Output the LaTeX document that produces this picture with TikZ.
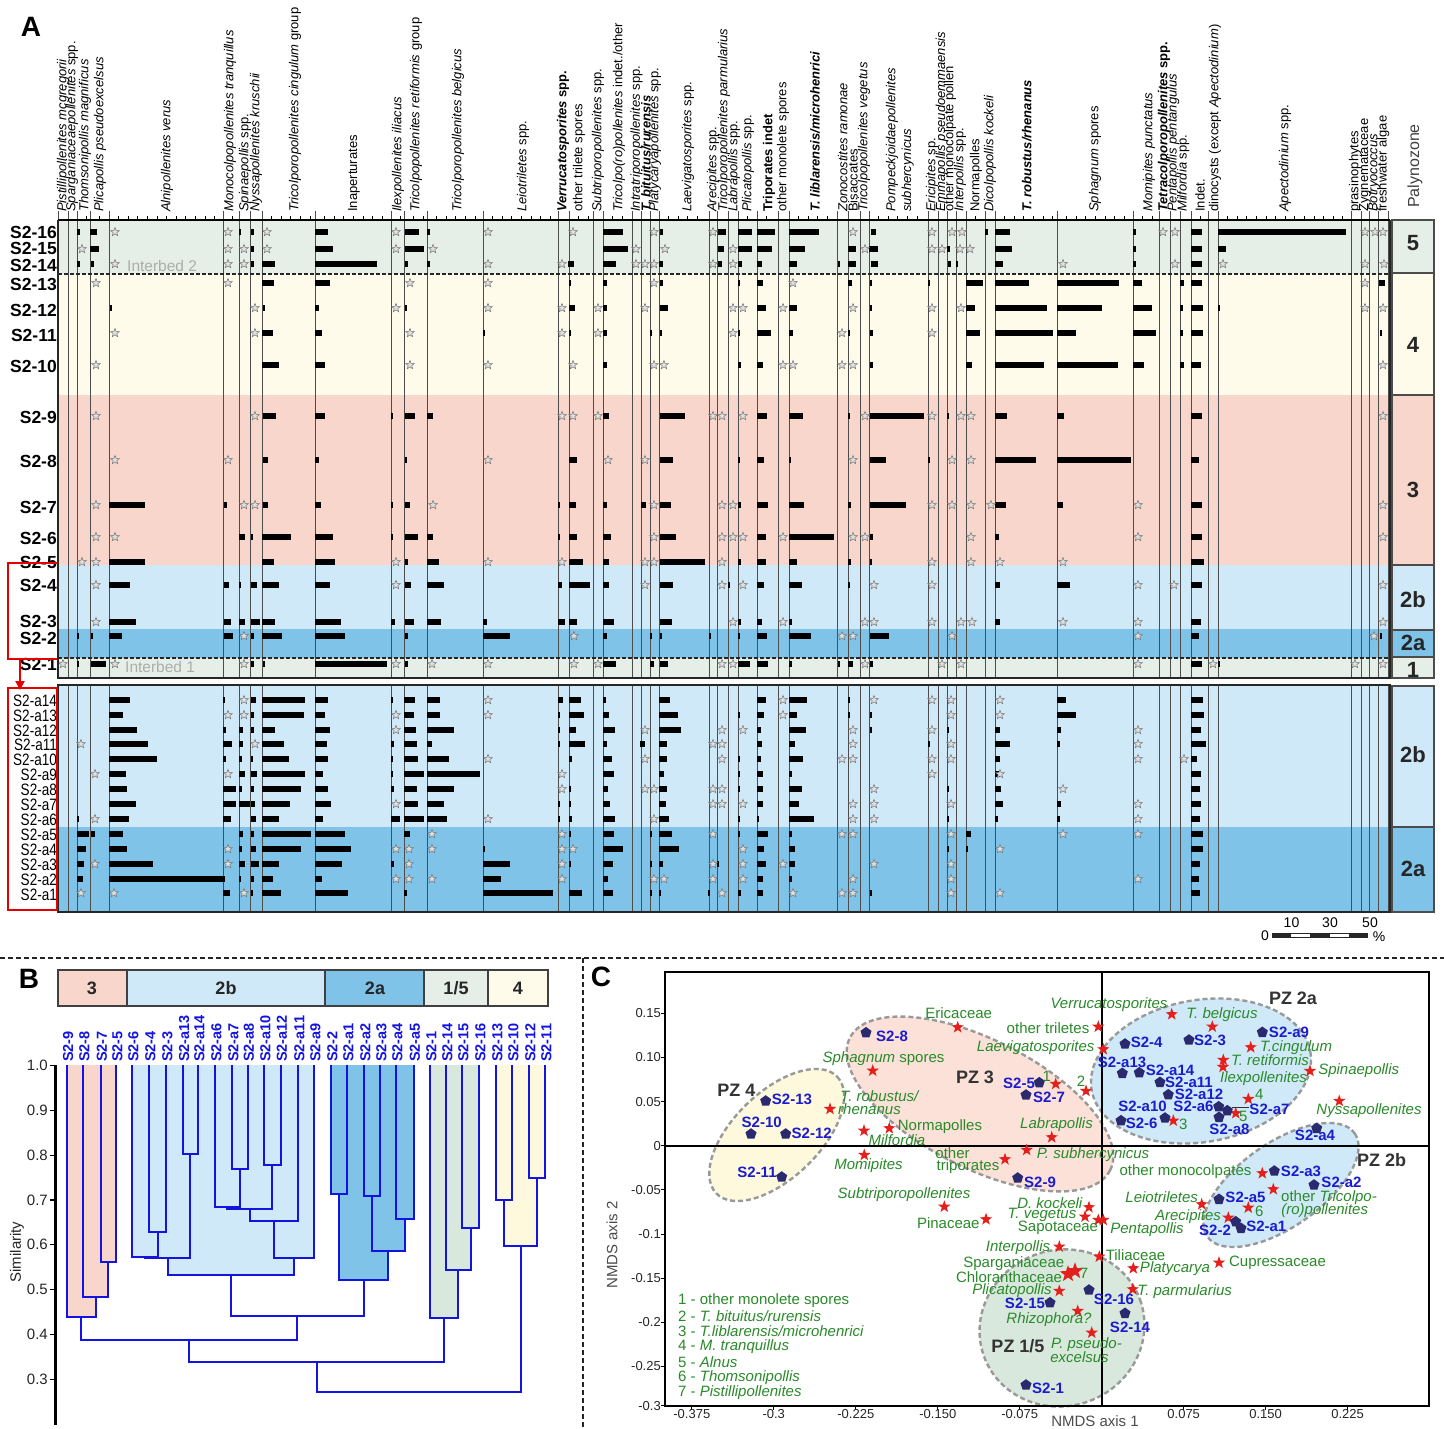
\documentclass[tikz,border=0pt]{standalone}
\usepackage{fontspec}
\setmainfont{Liberation Sans}
\usetikzlibrary{arrows.meta}
\definecolor{colG}{HTML}{E5EFE7}
\definecolor{colY}{HTML}{FEFBEB}
\definecolor{colS}{HTML}{F9D6CB}
\definecolor{colB}{HTML}{D0E9F8}
\definecolor{colM}{HTML}{7FC3E8}
\definecolor{colGB}{HTML}{D9E8DD}
\definecolor{colYB}{HTML}{FEF9DD}
\definecolor{colSL}{HTML}{FBE1D8}
\definecolor{dblue}{HTML}{1414E0}
\definecolor{pblue}{HTML}{1C1CCC}
\definecolor{navy}{HTML}{2B2A6E}
\definecolor{grn}{HTML}{2A8A2A}
\definecolor{rstarc}{HTML}{E3201C}
\definecolor{pzgray}{HTML}{333333}
\newcommand\fcol{\fontsize{13}{14}\selectfont}
\newcommand\frow{\fontsize{17.5}{18}\selectfont}
\newcommand\frowb{\fontsize{16.5}{17}\selectfont}
\newcommand\fbig{\fontsize{28}{30}\selectfont}
\newcommand\fpzn{\fontsize{22}{23}\selectfont}
\newcommand\fib{\fontsize{15.5}{16}\selectfont}
\newcommand\fscl{\fontsize{14}{15}\selectfont}
\newcommand\fleaf{\fontsize{14.5}{15}\selectfont}
\newcommand\ftick{\fontsize{15}{16}\selectfont}
\newcommand\fhead{\fontsize{18}{19}\selectfont}
\newcommand\fpt{\fontsize{15}{16}\selectfont}
\newcommand\fgr{\fontsize{15}{16}\selectfont}
\newcommand\fpzl{\fontsize{18}{19}\selectfont}
\newcommand\fctick{\fontsize{13}{14}\selectfont}
\newcommand\brs[2]{\foreach \p/\q in {#2}{\fill[black] (\p,#1-3.3) rectangle (\q,#1+3.3);}}
\newcommand\sts[2]{\foreach \p in {#2}{\pic at (\p,#1) {gstar};}}
\newcommand\mrg[5]{\draw[dend] (#1,#2) -- (#1,#5) -- (#3,#5) -- (#3,#4);}
\def\collines{58,68,77,90,109,223,239,250,262,315,391,404,427,483,558,569,593,603,632,641,650,659,709,717,728,738,757,778,789,837,848,860,869,928,938,947,956,966,985,995,1057,1133,1159,1170,1180,1191,1208,1218,1351,1361,1369,1378,1388}
\begin{document}
\begin{tikzpicture}[x=1pt,y=-1pt,
  clab/.style={rotate=90,anchor=west,inner sep=0pt,font=\fcol},
  rlab/.style={anchor=east,inner sep=0pt,font=\frow\bfseries},
  rlabb/.style={anchor=east,inner sep=0pt,font=\frowb,xscale=0.82},
  colline/.style={draw=black!70,line width=0.7},
  pzbox/.style={draw=black!70,line width=1.8},
  pzlab/.style={font=\fpzn\bfseries,text=black!85},
  dend/.style={draw=dblue,line width=2},
  leaf/.style={rotate=90,anchor=west,inner sep=0pt,font=\fleaf\bfseries,text=dblue},
  plab/.style={inner sep=0pt,font=\fpt\bfseries,text=pblue},
  glab/.style={inner sep=0pt,font=\fgr,text=grn},
  pzc/.style={inner sep=0pt,font=\fpzl\bfseries,text=pzgray},
  ell/.style={draw=black!40,line width=2.4,dash pattern=on 5pt off 3pt},
  gstar/.pic={\filldraw[fill=black!12,draw=black!55,line width=0.5] (-90:4.6)--(-126:1.9)--(-162:4.6)--(-198:1.9)--(-234:4.6)--(-270:1.9)--(-306:4.6)--(-342:1.9)--(-378:4.6)--(-414:1.9)--cycle;},
  rstar/.pic={\fill[rstarc] (-90:6.5)--(-126:2.6)--(-162:6.5)--(-198:2.6)--(-234:6.5)--(-270:2.6)--(-306:6.5)--(-342:2.6)--(-378:6.5)--(-414:2.6)--cycle;},
  pent/.pic={\fill[navy] (-90:5.8)--(-18:5.8)--(54:5.8)--(126:5.8)--(198:5.8)--cycle;}
]
\useasboundingbox (0,0) rectangle (1444,1429);
\fill[white] (0,0) rectangle (1444,1429);

% ================= PANEL A =================
\node[font=\fbig\bfseries] (lblA) at (31,27) {A};
\fill[colG] (58,220) rectangle (1390,274);
\fill[colY] (58,274) rectangle (1390,395);
\fill[colS] (58,395) rectangle (1390,565);
\fill[colB] (58,565) rectangle (1390,629);
\fill[colM] (58,629) rectangle (1390,658);
\fill[colG] (58,658) rectangle (1390,678);
\fill[colB] (58,685) rectangle (1390,827);
\fill[colM] (58,827) rectangle (1390,912);
\foreach \x in \collines {\draw[colline] (\x,211) -- (\x,678); \draw[colline] (\x,685) -- (\x,912);}
\foreach \b [remember=\b as \a (initially 58)] in {68,77,90,109,223,239,250,262,315,391,404,427,483,558,569,593,603,632,641,650,659,709,717,728,738,757,778,789,837,848,860,869,928,938,947,956,966,985,995,1057,1133,1159,1170,1180,1191,1208,1218,1351,1361,1369,1378,1388}{
  \pgfmathtruncatemacro\nt{(\b-\a-3)/9.6}
  \ifnum\nt>0 \foreach \k in {1,...,\nt}{\draw[line width=0.7] (\a+\k*9.6,220) -- (\a+\k*9.6,216);}\fi
}
\draw[black!85,line width=1.3,dash pattern=on 4pt off 2pt] (58,274) -- (1390,274);
\draw[black!85,line width=1.3,dash pattern=on 4pt off 2pt] (58,658) -- (1390,658);
\node[anchor=west,inner sep=0pt,font=\fib,text=black!32] (ib2) at (127,266) {Interbed 2};
\node[anchor=west,inner sep=0pt,font=\fib,text=black!32] (ib1) at (125,667) {Interbed 1};

\brs{232}{77/80,90/97,239/241,251/254,315/328,405/419,427/430,603/623,660/663,718/726,738/752,757/775,789/819,871/876,985/988,995/1010,1133/1136,1191/1202,1218/1346}
\sts{232}{115,228,267,396,488,573,654,713,853,932,952,962,1163,1175,1365,1375,1383}
\brs{249}{90/99,251/254,315/333,405/424,603/628,718/724,738/752,757/772,789/805,848/856,869/878,947/950,995/1012,1133/1136,1191/1202,1218/1226}
\sts{249}{82,228,244,267,396,433,636,665,733,865,932,942,960,970}
\brs{264}{77/80,91/94,251/254,262/275,315/377,405/408,427/430,568/574,603/616,659/663,718/722,738/742,757/762,789/797,838/840,848/856,871/878,948/951,956/958,995/1003,1133/1136,1191/1202}
\sts{264}{115,228,244,488,562,636,645,654,713,733,1063,1175,1223,1365,1384}
\brs{283}{262/274,315/330,569/571,603/607,660/663,738/740,757/763,848/852,870/872,928/930,966/983,995/1029,1057/1119,1133/1142,1180/1184,1191/1202,1379/1385}
\sts{283}{96,228,410,488,654,793,1365}
\brs{308}{110/112,263/265,315/319,405/407,569/575,603/607,660/668,757/766,789/797,870/872,966/975,995/1047,1057/1102,1133/1152,1180/1183,1191/1203,1218/1220}
\sts{308}{255,396,488,562,598,645,733,743,783,853,932,961,1365,1383}
\brs{333}{262/273,315/322,483/485,569/571,603/607,650/652,660/662,738/740,757/771,789/793,848/850,870/873,966/980,995/1053,1057/1076,1133/1156,1180/1183,1191/1203,1380/1382}
\sts{333}{115,255,410,562,598,733,842,932}
\brs{365}{262/279,315/325,603/607,738/741,757/763,870/873,966/972,995/1044,1057/1118,1133/1144,1180/1184,1191/1201}
\sts{365}{96,410,488,573,654,664,783,793,842,853,1383}
\brs{416}{263/276,315/325,391/393,405/415,427/433,603/609,660/685,757/767,789/803,848/850,870/924,947/949,995/1007,1057/1064,1191/1202}
\sts{416}{96,255,562,573,598,713,722,743,865,932,961,971,1383}
\brs{460}{263/268,315/319,405/407,569/577,660/673,738/740,757/764,789/791,870/886,928/930,995/1036,1057/1131,1191/1199}
\sts{460}{115,228,488,608,645,853,952,971}
\brs{505}{109/145,224/227,263/268,315/321,391/393,405/410,558/560,569/576,603/607,641/646,660/671,738/741,757/768,789/804,848/851,870/906,995/1006,1057/1063,1191/1202}
\sts{505}{96,244,255,433,654,722,733,932,952,971,991,1138,1383}
\brs{537}{239/245,251/253,262/291,315/333,391/393,405/418,427/433,558/560,569/577,603/611,660/676,757/766,789/834,870/873,995/999,1191/1202}
\sts{537}{96,115,654,722,733,743,783,853,865,971,1138,1383}
\brs{562}{109/145,262/274,315/335,405/408,427/439,569/583,603/609,660/705,738/741,757/766,789/797,848/851,870/872,1191/1204}
\sts{562}{82,96,396,488,562,645,654,722,932,971,1000,1063}
\brs{585}{109/130,224/229,239/241,251/257,262/279,315/330,405/411,427/444,558/562,569/590,603/609,660/673,728/730,757/764,789/802,848/850,995/1000,1057/1070,1191/1202}
\sts{585}{96,396,645,722,743,874,932,1138,1174,1383}
\brs{622}{109/136,224/231,239/245,251/260,262/275,315/341,391/395,405/414,427/441,483/487,558/565,569/577,603/614,660/672,738/741,757/762,789/792,995/1000,1191/1201}
\sts{622}{96,733,783,865,874,932,961,972,1063,1138,1383}
\brs{636}{77/79,91/93,109/122,224/233,251/254,262/282,315/345,405/408,483/510,603/607,650/652,660/662,709/711,738/740,757/767,789/811,870/889,1191/1199,1380/1382}
\sts{636}{244,574,842,853,952,1138,1374}
\brs{664}{77/79,91/106,251/254,263/265,315/387,405/408,603/616,650/654,660/668,738/750,757/768,789/792,838/840,848/853,870/873,1191/1202,1218/1220}
\sts{664}{63,115,244,396,432,488,574,598,722,733,865,942,961,1138,1213,1355,1383}

\brs{700}{109/130,223/225,251/256,262/305,315/328,391/393,404/415,427/440,558/563,569/581,603/606,659/670,757/766,789/807,848/850,1057/1066,1191/1203}
\sts{700}{244,488,783,874,932,951,1000}
\brs{715}{109/123,251/254,262/304,315/325,404/414,427/440,558/560,569/584,603/609,659/678,738/740,757/764,789/797,848/850,870/872,1057/1076,1191/1204}
\sts{715}{228,244,396,488,783,951,1000}
\brs{730}{109/137,223/226,239/243,251/254,262/275,315/330,404/416,427/454,558/560,569/576,603/615,659/681,757/761,789/806,870/872,947/949,995/1000,1057/1061,1191/1201}
\sts{730}{396,645,722,743,853,932,1138}
\brs{744}{109/148,223/232,239/243,262/284,315/327,391/394,404/417,427/432,558/560,569/585,603/607,640/645,659/667,757/762,789/795,928/930,995/1010,1057/1060,1191/1206}
\sts{744}{81,255,713,722,853,951,1138}
\brs{759}{109/157,223/226,239/242,251/253,262/289,315/328,391/393,404/418,427/449,569/572,603/612,659/667,738/740,757/761,789/803,995/1000,1191/1197}
\sts{759}{488,645,722,842,853,932,951,1138,1184}
\brs{774}{109/126,239/245,251/257,262/305,315/323,391/393,404/424,427/480,603/614,659/664,738/740,757/763,789/792,995/1000,1191/1201}
\sts{774}{95,228,562,932,1000}
\brs{789}{109/127,223/236,239/242,251/254,262/301,315/328,391/394,404/417,427/454,569/571,603/608,659/667,738/740,757/763,789/802,947/949,995/1001,1191/1200}
\sts{789}{562,645,654,713,722,874,1063}
\brs{804}{109/136,223/236,239/250,251/255,262/290,315/331,404/418,427/444,558/560,569/571,603/610,659/666,757/763,789/799,995/1003,1057/1061,1191/1201}
\sts{804}{396,713,722,743,853,874,951,1138}
\brs{819}{77/79,109/129,223/231,251/256,262/279,315/323,391/400,404/424,427/447,558/560,569/572,603/615,659/669,738/740,757/759,789/814,947/949,995/998,1057/1060,1191/1200}
\sts{819}{95,488,654,853,874,1138}
\brs{834}{77/89,91/95,109/123,239/243,251/254,262/311,315/345,404/410,569/571,603/614,650/652,659/672,738/740,757/768,789/792,966/971,1191/1203}
\sts{834}{432,562,713,842,853,951,1063,1138}
\brs{849}{77/86,109/127,239/242,251/256,262/301,315/351,483/485,603/623,659/679,757/764,789/795,947/949,966/968,1191/1203}
\sts{849}{228,396,409,432,562,573,743,1000}
\brs{864}{77/84,109/153,239/245,251/259,262/279,315/342,391/394,483/510,569/571,603/613,650/652,659/663,717/719,757/766,789/795,1191/1200}
\sts{864}{95,228,409,562,713,743,783,874,951}
\brs{879}{77/83,109/225,239/241,251/254,262/273,315/322,483/501,603/608,757/763,789/792,1191/1199}
\sts{879}{396,409,432,562,654,664,713,743,853,951,1138}
\brs{893}{223/230,251/253,262/281,315/348,404/407,483/553,569/582,603/613,650/652,659/661,708/710,738/741,757/763,870/872,1191/1200}
\sts{893}{81,114,244,722,793,842,853,951,1000}

\draw[black,line width=1.8] (58,220) -- (1390,220);
\draw[black!85,line width=1.5] (58,220) -- (58,678) -- (1390,678) -- (1390,220);
\draw[black!85,line width=1.5] (58,685) rectangle (1390,912);

\foreach \t/\y [count=\i] in {S2-16/232,S2-15/248,S2-14/265,S2-13/284,S2-12/310,S2-11/335,S2-10/366,S2-9/417,S2-8/461,S2-7/507,S2-6/538,S2-5/562,S2-4/585,S2-3/621,S2-2/638,S2-1/664}
  {\node[rlab] (ru\i) at (57,\y) {\t};}
\foreach \t/\y [count=\i] in {S2-a14/701,S2-a13/716,S2-a12/731,S2-a11/745,S2-a10/760,S2-a9/775,S2-a8/790,S2-a7/805,S2-a6/820,S2-a5/835,S2-a4/850,S2-a3/865,S2-a2/880,S2-a1/895}
  {\node[rlabb] (rl\i) at (57,\y) {\t};}

\draw[red!90!black,line width=2.6] (58,563) -- (8,563) -- (8,659) -- (57,659);
\draw[red!90!black,line width=2.2,-{Triangle[length=9pt,width=9pt]}] (20,659) -- (20,690);
\draw[red!90!black,line width=2.6] (8,688) rectangle (57,910);

\draw[pzbox,fill=colG] (1392,220) rectangle (1434,273);
\draw[pzbox,fill=colY] (1392,273) rectangle (1434,395);
\draw[pzbox,fill=colS] (1392,395) rectangle (1434,565);
\draw[pzbox,fill=colB] (1392,565) rectangle (1434,630);
\draw[pzbox,fill=colM] (1392,630) rectangle (1434,657);
\draw[pzbox,fill=colG] (1392,657) rectangle (1434,678);
\draw[pzbox,fill=colB] (1392,686) rectangle (1434,827);
\draw[pzbox,fill=colM] (1392,827) rectangle (1434,912);
\node[pzlab] (pz5) at (1413,243) {5};
\node[pzlab] (pz4) at (1413,345) {4};
\node[pzlab] (pz3) at (1413,490) {3};
\node[pzlab] (pz2b) at (1413,600) {2b};
\node[pzlab] (pz2a) at (1413,643) {2a};
\node[pzlab] (pz1) at (1413,670) {1};
\node[pzlab] (pz2bl) at (1413,755) {2b};
\node[pzlab] (pz2al) at (1413,869) {2a};

\node[clab] (c1) at (63,212) {\textit{Pistillipollenites mcgregorii}};
\node[clab] (c2) at (72,212) {\textit{Sparganiaceaepollenites} spp.};
\node[clab] (c3) at (85,212) {\textit{Thomsonipollis magnificus}};
\node[clab] (c4) at (100,212) {\textit{Plicapollis pseudoexcelsus}};
\node[clab] (c5) at (167,212) {\textit{Alnipollenites verus}};
\node[clab] (c6) at (230,212) {\textit{Monocolpopollenites tranquillus}};
\node[clab] (c7) at (245,212) {\textit{Spinaepollis} spp.};
\node[clab] (c8) at (256,212) {\textit{Nyssapollenites kruschii}};
\node[clab] (c9) at (295,212) {\textit{Tricolporopollenites cingulum} group};
\node[clab] (c10) at (354,212) {Inaperturates};
\node[clab] (c11) at (398,212) {\textit{Ilexpollenites iliacus}};
\node[clab] (c12) at (416,212) {\textit{Tricolpopollenites retiformis} group};
\node[clab] (c13) at (458,212) {\textit{Tricolporopollenites belgicus}};
\node[clab] (c14) at (523,212) {\textit{Leiotriletes} spp.};
\node[clab] (c15) at (563,212) {\textbf{\textit{Verrucatosporites} spp.}};
\node[clab] (c16) at (579,212) {other trilete spores};
\node[clab] (c17) at (598,212) {\textit{Subtriporopollenites} spp.};
\node[clab] (c18) at (619,212) {\textit{Tricolpo(ro)pollenites} indet./other};
\node[clab] (c19) at (636.5,212) {\textit{Intratriporopollenites} spp.};
\node[clab] (c20) at (646,212) {\textbf{\textit{T. bituitus/rurensis}}};
\node[clab] (c21) at (655,212) {\textit{Platycaryapollenites} spp.};
\node[clab] (c22) at (688,212) {\textit{Laevigatosporites} spp.};
\node[clab] (c23) at (713,212) {\textit{Arecipites} spp.};
\node[clab] (c24) at (724,212) {\textit{Tricolporopollenites parmularius}};
\node[clab] (c25) at (734,212) {\textit{Labrapollis} spp.};
\node[clab] (c26) at (748,212) {\textit{Plicatopollis} spp.};
\node[clab] (c27) at (769,212) {\textbf{Triporates indet}};
\node[clab] (c28) at (783,212) {other monolete spores};
\node[clab] (c29) at (815,212) {\textbf{\textit{T. liblarensis/microhenrici}}};
\node[clab] (c30) at (842.7,212) {\textit{Zonocostites ramonae}};
\node[clab] (c31) at (853,212) {Bisaccates};
\node[clab] (c32) at (864,212) {\textit{Tricolpopollenites vegetus}};
\node[clab] (c33) at (892,212) {\textit{Pompeckjoidaepollenites}};
\node[clab] (c33b) at (907.7,212) {\textit{subhercynicus}};
\node[clab] (c34) at (932,212) {\textit{Ericipites} sp.};
\node[clab] (c35) at (941.7,212) {\textit{Emmapollis pseudoemmaensis}};
\node[clab] (c36) at (950,212) {other monocolpate pollen};
\node[clab] (c37) at (960,212) {\textit{Interpollis} spp.};
\node[clab] (c38) at (976,212) {Normapolles};
\node[clab] (c39) at (990,212) {\textit{Dicolpopollis kockeli}};
\node[clab] (c40) at (1026.7,212) {\textbf{\textit{T. robustus/rhenanus}}};
\node[clab] (c41) at (1095,212) {\textit{Sphagnum} spores};
\node[clab] (c42) at (1149,212) {\textit{Momipites punctatus}};
\node[clab] (c43) at (1164,212) {\textbf{\textit{Tetracolporopollenites} spp.}};
\node[clab] (c44) at (1173.3,212) {\textit{Pentapollis pentangulus}};
\node[clab] (c45) at (1183.3,212) {\textit{Milfordia} spp.};
\node[clab] (c46) at (1200,212) {Indet.};
\node[clab] (c47) at (1215,212) {dinocysts (except \textit{Apectodinium})};
\node[clab] (c48) at (1285,212) {\textit{Apectodinium} spp.};
\node[clab] (c49) at (1355,212) {prasinophytes};
\node[clab] (c50) at (1365,212) {Zygnemataceae};
\node[clab] (c51) at (1374.3,212) {\textit{Botryococcus}};
\node[clab] (c52) at (1383.3,212) {freshwater algae};
\node[rotate=90,anchor=west,inner sep=0pt,font=\fontsize{16}{17}\selectfont,text=black!75] (pzt) at (1415,208) {Palynozone};

\fill[black!85] (1271.7,932.7) rectangle (1368.3,938.3);
\fill[white] (1291,933.7) rectangle (1310.3,937.3);
\fill[white] (1329.7,933.7) rectangle (1349,937.3);
\node[font=\fscl,inner sep=0pt] (s0) at (1265,936) {0};
\node[font=\fscl,inner sep=0pt] (s10) at (1291.5,923) {10};
\node[font=\fscl,inner sep=0pt] (s30) at (1330,923) {30};
\node[font=\fscl,inner sep=0pt] (s50) at (1370,923) {50};
\node[font=\fscl,inner sep=0pt] (spc) at (1379,937) {\%};

\draw[black!85,line width=1.3,dash pattern=on 5pt off 3pt] (0,958) -- (1444,958);
\draw[black!85,line width=1.3,dash pattern=on 5pt off 3pt] (583,958) -- (583,1429);

% ================= PANEL B =================
\node[font=\fbig\bfseries] (lblB) at (29,979) {B};
\draw[line width=1.6,draw=black!75,fill=colS] (58,970) rectangle (127,1006);
\draw[line width=1.6,draw=black!75,fill=colB] (127,970) rectangle (325,1006);
\draw[line width=1.6,draw=black!75,fill=colM] (325,970) rectangle (424,1006);
\draw[line width=1.6,draw=black!75,fill=colG] (424,970) rectangle (488,1006);
\draw[line width=1.6,draw=black!75,fill=colY] (488,970) rectangle (548,1006);
\node[font=\fhead\bfseries,text=black!85] (h3) at (92,988) {3};
\node[font=\fhead\bfseries,text=black!85] (h2b) at (226,988) {2b};
\node[font=\fhead\bfseries,text=black!85] (h2a) at (375,988) {2a};
\node[font=\fhead\bfseries,text=black!85] (h15) at (456,988) {1/5};
\node[font=\fhead\bfseries,text=black!85] (h4) at (518,988) {4};
\fill[colS] (66.7,1065) -- (116,1065) -- (116,1262.3) -- (108.25,1262.3) -- (108.25,1296.7) -- (95.6,1296.7) -- (95.6,1317.3) -- (66.7,1317.3) -- cycle;
\fill[colB] (132,1065) -- (314,1065) -- (314,1257.7) -- (294,1257.7) -- (294,1275) -- (167.5,1275) -- (167.5,1258.3) -- (132,1258.3) -- cycle;
\fill[colM] (331,1065) -- (413.5,1065) -- (413.5,1219) -- (404.75,1219) -- (404.75,1250.7) -- (388.4,1250.7) -- (388.4,1280) -- (339,1280) -- (339,1194) -- (331,1194) -- cycle;
\fill[colGB] (430,1065) -- (479,1065) -- (479,1227.7) -- (470.5,1227.7) -- (470.5,1270) -- (458.25,1270) -- (458.25,1318.3) -- (430,1318.3) -- cycle;
\fill[colYB] (496,1065) -- (545,1065) -- (545,1177.7) -- (537,1177.7) -- (537,1245.7) -- (504,1245.7) -- (504,1200) -- (496,1200) -- cycle;
\mrg{100.5}{1065}{116}{1065}{1262.3}
\mrg{83}{1065}{108.25}{1262.3}{1296.7}
\mrg{66.7}{1065}{95.6}{1296.7}{1317.3}
\mrg{149}{1065}{166}{1065}{1232.3}
\mrg{132}{1065}{157.5}{1232.3}{1257.3}
\mrg{182.6}{1065}{198}{1065}{1154}
\mrg{144.75}{1257.3}{190.3}{1154}{1258.3}
\mrg{232}{1065}{247.5}{1065}{1169}
\mrg{264}{1065}{280.5}{1065}{1165}
\mrg{215}{1065}{239.75}{1169}{1206.7}
\mrg{227.4}{1206.7}{272.25}{1165}{1209.3}
\mrg{249.8}{1209.3}{298}{1065}{1220.7}
\mrg{273.9}{1220.7}{314}{1065}{1257.7}
\mrg{167.5}{1258.3}{294}{1257.7}{1275}
\mrg{331}{1065}{347}{1065}{1194}
\mrg{364}{1065}{380}{1065}{1195.7}
\mrg{396}{1065}{413.5}{1065}{1219}
\mrg{372}{1195.7}{404.75}{1219}{1250.7}
\mrg{339}{1194}{388.4}{1250.7}{1280}
\mrg{230.8}{1275}{363.7}{1280}{1316}
\mrg{81.2}{1317.3}{297.2}{1316}{1340}
\mrg{462}{1065}{479}{1065}{1227.7}
\mrg{446}{1065}{470.5}{1227.7}{1270}
\mrg{430}{1065}{458.25}{1270}{1318.3}
\mrg{189.2}{1340}{444.1}{1318.3}{1362.3}
\mrg{529}{1065}{545}{1065}{1177.7}
\mrg{496}{1065}{512}{1065}{1200}
\mrg{504}{1200}{537}{1177.7}{1245.7}
\mrg{316.7}{1362.3}{520.5}{1245.7}{1392.3}
\foreach \t/\x [count=\i] in {S2-9/66.7,S2-8/83,S2-7/100.5,S2-5/116,S2-6/132,S2-4/149,S2-3/166,S2-a13/182.6,S2-a14/198,S2-a6/215,S2-a7/232,S2-a8/247.5,S2-a10/264,S2-a12/280.5,S2-a11/298,S2-a9/314,S2-2/331,S2-a1/347,S2-a2/364,S2-a3/380,S2-a4/396,S2-a5/413.5,S2-1/430,S2-14/446,S2-15/462,S2-16/479,S2-13/496,S2-10/512,S2-12/529,S2-11/545}
  {\node[leaf] (lf\i) at (\x+1.5,1062) {\t};}
\draw[black,line width=2.3] (55.5,1065) -- (55.5,1425);
\foreach \t/\y [count=\i] in {1.0/1065.5,0.9/1110.3,0.8/1155.1,0.7/1199.9,0.6/1244.7,0.5/1289.5,0.4/1334.3,0.3/1379.1}
  {\draw[black,line width=1.2] (49.5,\y) -- (55.5,\y); \node[anchor=east,inner sep=0pt,font=\ftick,text=black!85] (bt\i) at (48,\y) {\t};}
\node[rotate=90,inner sep=0pt,font=\ftick,text=black!85] (sim) at (17,1252) {Similarity};

% ================= PANEL C =================
\node[font=\fbig\bfseries] (lblC) at (601,977) {C};
\draw[ell,fill=colYB,rotate around={44:(776.7,1135)}] (776.7,1135) ellipse [x radius=84,y radius=43];
\draw[ell,fill=colSL,rotate around={-27:(980,1104)}] (980,1104) ellipse [x radius=146,y radius=64];
\draw[ell,fill=colB,rotate around={10:(1201,1071)}] (1201,1071) ellipse [x radius=111,y radius=71];
\draw[ell,fill=colB,rotate around={35:(1281,1185)}] (1281,1185) ellipse [x radius=90,y radius=42];
\draw[ell,fill=colGB,rotate around={20:(1062,1328)}] (1062,1328) ellipse [x radius=83,y radius=78];
\draw[black,line width=1.8] (1101.7,972) -- (1101.7,1406);
\draw[black,line width=1.8] (665,1145.7) -- (1429,1145.7);
\draw[black,line width=2] (665,972) rectangle (1429,1406);
\foreach \t/\y [count=\i] in {0.15/1013.3,0.10/1057.4,0.05/1101.6,0/1145.7,-0.05/1189.9,-0.1/1234,-0.15/1278.2,-0.2/1322.4,-0.25/1366.5,-0.3/1405.7}
  {\draw[black,line width=1] (661,\y) -- (665,\y); \node[anchor=east,inner sep=0pt,font=\fctick,text=black!85] (ct\i) at (661,\y) {\t};}
\foreach \t/\x [count=\i] in {-0.375/691.8,-0.3/773.7,-0.225/855.8,-0.150/937.8,-0.075/1019.7,0.075/1183.7,0.150/1265.6,0.225/1347.6}
  {\draw[black,line width=1] (\x,1406) -- (\x,1410); \node[inner sep=0pt,font=\fctick,text=black!85] (cx\i) at (\x,1414) {\t};}
\node[rotate=90,inner sep=0pt,font=\fontsize{15}{16}\selectfont,text=black!70] (ax2) at (612,1245) {NMDS axis 2};
\node[inner sep=0pt,font=\fontsize{15}{16}\selectfont,text=black!70] (ax1) at (1095,1421) {NMDS axis 1};
\foreach \x/\y in {957.7/1027.3,1098.3/1026.7,1171.7/1014.3,1103.3/1049.3,1212.3/1026.7,1250.7/1047.3,1223.3/1060,1223/1067,1310/1071,1339.3/1101,1248.3/1099,1235.7/1113.3,1173.3/1120.7,1055.7/1084,1086/1091,1051.7/1137.3,1026.7/1150,872.7/1070.7,830/1109,889.3/1128.3,864/1130.7,864.3/1155,1005/1159.3,944.3/1206.7,986/1219.3,1089/1207.3,1085/1216.7,1098.3/1220,1103.3/1220,1262.3/1173.3,1201.7/1204.3,1273.3/1189.3,1248.3/1207.7,1228.3/1217.7,1059.3/1246.7,1099.3/1256.7,1133.3/1268.3,1219/1262.7,1059.3/1291,1132.7/1289.3,1077.7/1311,1091.7/1332.7}
  {\pic at (\x,\y) {rstar};}
\pic[scale=1.35] at (1068,1274) {rstar};
\pic[scale=1.35] at (1075,1271) {rstar};
\foreach \x/\y in {866/1032.7,765.7/1101,751/1134,785.7/1134,781.7/1177,1039.3/1082.7,1026/1095,1017.7/1178,1050/1302.7,1089/1290,1125/1313.3,1026/1385,1125/1044,1189/1040,1262.3/1032.3,1122.3/1073.3,1139.3/1072.7,1160/1082.3,1168.3/1094.7,1165/1118,1121/1120.7,1218.7/1106.7,1227.3/1110.7,1219/1117.3,1316.7/1128.3,1274.3/1171,1314/1185,1219/1199.3,1235.7/1221.7,1241/1228.3}
  {\pic at (\x,\y) {pent};}
\draw[black!80,line width=1] (1232,1107) -- (1249,1107);
\foreach \t/\x/\y [count=\i] in {S2-8/892/1036,S2-13/792/1099,S2-10/761.7/1122.7,S2-12/811.7/1133,S2-11/757/1172.7,S2-5/1019/1083,S2-7/1049/1097,S2-9/1040/1182,S2-15/1025/1303,S2-16/1114/1299,S2-14/1130/1327.7,S2-1/1048/1388,S2-4/1146.7/1042,S2-3/1210/1040,S2-a9/1289/1032,S2-a13/1122/1062,S2-a14/1170/1070,S2-a11/1189/1082.7,S2-a12/1199/1094.3,S2-a10/1142.5/1106.7,S2-6/1141.7/1123.3,S2-a6/1193.5/1106.7,S2-a7/1269.5/1109,S2-a8/1229.5/1129.3,S2-a4/1315/1135,S2-a3/1301/1171,S2-a2/1341.5/1182.3,S2-a5/1245.5/1197.7,S2-2/1215/1230,S2-a1/1266.3/1226.7}
  {\node[plab] (pl\i) at (\x,\y) {\t};}
\node[pzc] (pzc4) at (736.3,1090) {PZ 4};
\node[pzc] (pzc3) at (975,1077) {PZ 3};
\node[pzc] (pzc2a) at (1293,998.3) {PZ 2a};
\node[pzc] (pzc2b) at (1381.7,1160) {PZ 2b};
\node[pzc] (pzc15) at (1018,1346) {PZ 1/5};
\node[glab] (g1) at (958.7,1012.7) {Ericaceae};
\node[glab] (g2) at (1048,1028) {other triletes};
\node[glab] (g3) at (1109,1004.3) {\textit{Verrucatosporites}};
\node[glab] (g4) at (1035.7,1048) {\textit{Laevigatosporites}};
\node[glab] (g5) at (1222,1015) {\textit{T. belgicus}};
\node[glab] (g6) at (1296,1048) {\textit{T.cingulum}};
\node[glab] (g7) at (1270,1060) {\textit{T. retiformis}};
\node[glab] (g8) at (1263.5,1078.3) {\textit{Ilexpollenites}};
\node[glab] (g9) at (1358.7,1071) {\textit{Spinaepollis}};
\node[glab] (g10) at (1369,1111) {\textit{Nyssapollenites}};
\node[glab] (g11) at (1259.3,1094.3) {4};
\node[glab] (g12) at (1243.3,1116.7) {5};
\node[glab] (g13) at (1183.3,1124.3) {3};
\node[glab] (g14) at (1046.7,1076) {1};
\node[glab] (g15) at (1081,1081.7) {2};
\node[glab] (g16) at (1056.5,1124.3) {\textit{Labrapollis}};
\node[glab] (g17) at (1093,1154.7) {\textit{P. subhercynicus}};
\node[glab] (g18) at (883.5,1058.3) {\textit{Sphagnum} spores};
\node[glab] (g19) at (880,1096) {\textit{T. robustus/}};
\node[glab] (g20) at (869.5,1108.7) {\textit{rhenanus}};
\node[glab] (g21) at (940,1126.7) {Normapolles};
\node[glab] (g22) at (897,1140) {\textit{Milfordia}};
\node[glab] (g23) at (868.5,1166) {\textit{Momipites}};
\node[glab] (g24) at (952.5,1153.3) {other};
\node[glab] (g25) at (968,1166.7) {triporates};
\node[glab] (g26) at (904,1195) {\textit{Subtriporopollenites}};
\node[glab] (g27) at (948.3,1222.7) {Pinaceae};
\node[glab] (g28) at (1050,1203.3) {\textit{D. kockeli}};
\node[glab] (g29) at (1042,1215) {\textit{T. vegetus}};
\node[glab] (g30) at (1058,1227.7) {Sapotaceae};
\node[glab] (g31) at (1147,1229.3) {\textit{Pentapollis}};
\node[glab] (g32) at (1185.5,1172) {other monocolpates};
\node[glab] (g33) at (1161.7,1197.3) {\textit{Leiotriletes}};
\node[glab] (g34) at (1329,1197.7) {other \textit{Tricolpo-}};
\node[glab] (g35) at (1324.7,1211) {\textit{(ro)pollenites}};
\node[glab] (g36) at (1259.3,1211.7) {6};
\node[glab] (g37) at (1188,1217) {\textit{Arecipites}};
\node[glab] (g38) at (1018,1248) {\textit{Interpollis}};
\node[glab] (g39) at (1135.5,1254.7) {Tiliaceae};
\node[glab] (g40) at (1013.8,1263.3) {Sparganiaceae};
\node[glab] (g41) at (1009,1276.7) {Chloranthaceae};
\node[glab] (g42) at (1084,1273) {7};
\node[glab] (g43) at (1175,1269) {\textit{Platycarya}};
\node[glab] (g44) at (1277.5,1263.3) {Cupressaceae};
\node[glab] (g45) at (1012,1290.7) {\textit{Plicatopollis}};
\node[glab] (g46) at (1184.7,1291.7) {\textit{T. parmularius}};
\node[glab] (g47) at (1049,1320) {\textit{Rhizophora?}};
\node[glab] (g48) at (1086.5,1345) {\textit{P. pseudo-}};
\node[glab] (g49) at (1079.5,1356.7) {\textit{excelsus}};
\node[glab,anchor=west] (lg1) at (678,1300.7) {1 - other monolete spores};
\node[glab,anchor=west] (lg2) at (678,1316) {2 - \textit{T. bituitus/rurensis}};
\node[glab,anchor=west] (lg3) at (678,1331.3) {3 - \textit{T.liblarensis/microhenrici}};
\node[glab,anchor=west] (lg4) at (678,1346.6) {4 - \textit{M. tranquillus}};
\node[glab,anchor=west] (lg5) at (678,1361.9) {5 - \textit{Alnus}};
\node[glab,anchor=west] (lg6) at (678,1377.2) {6 - \textit{Thomsonipollis}};
\node[glab,anchor=west] (lg7) at (678,1392.5) {7 - \textit{Pistillipollenites}};
\end{tikzpicture}
\end{document}
